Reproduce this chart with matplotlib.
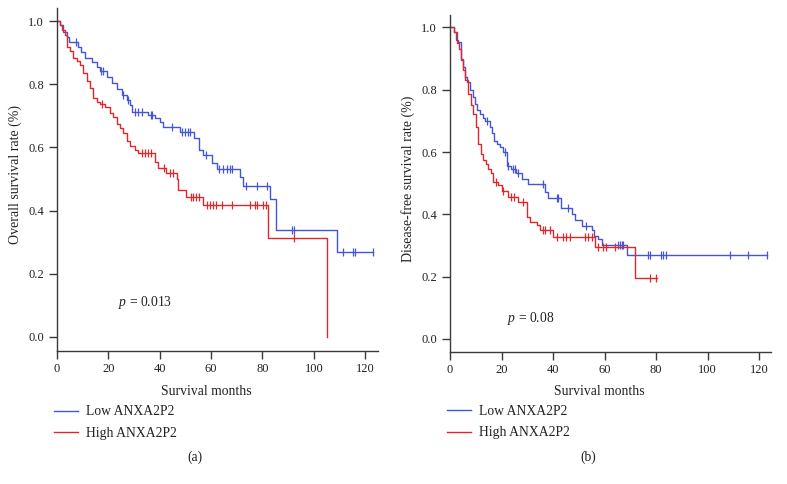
import numpy as np
import matplotlib
matplotlib.use('Agg')
import matplotlib.pyplot as plt

plt.rcParams['font.family'] = ['Liberation Serif', 'DejaVu Serif']
plt.rcParams['mathtext.fontset'] = 'custom'
plt.rcParams['mathtext.it'] = 'Liberation Serif:italic'
plt.rcParams['mathtext.rm'] = 'Liberation Serif'

BLUE = '#4455d6'
RED = '#e0282c'

# (a) overall survival
os_low_t = [0, 1.2, 2.5, 3.8, 4.5, 8.3, 9.5, 10.9, 13.5, 15.5, 16.8, 19.4, 21.3, 23.2, 25.2, 27.1, 28.4,
            29.1, 35.6, 38.2, 40.1, 41.4, 47.9, 53.4, 55.1, 57.0, 60.3, 62.2, 71.3, 72.3, 83.0, 85.3, 109.2]
os_low_s = [1.0, 0.987, 0.966, 0.95, 0.934, 0.919, 0.903, 0.882, 0.871, 0.855, 0.843, 0.824, 0.803, 0.784,
            0.766, 0.75, 0.734, 0.713, 0.703, 0.692, 0.681, 0.664, 0.648, 0.629, 0.592, 0.576, 0.55, 0.531,
            0.507, 0.478, 0.436, 0.339, 0.270]
os_low_cens = [7.4, 17.3, 18.0, 25.8, 27.6, 30.4, 31.7, 33.0, 36.5, 37.1, 44.7, 48.6, 49.9, 51.2, 51.8,
               58.0, 63.2, 64.8, 66.1, 67.4, 68.3, 73.6, 77.8, 81.7, 91.4, 92.3, 111.3, 115.2, 116.1, 123.0]
os_low_end = 123.0

os_high_t = [0, 1.2, 1.8, 3.1, 3.8, 5.1, 6.1, 7.7, 9.0, 10.0, 11.8, 12.8, 14.2, 15.5, 16.8, 18.7, 20.7,
             21.9, 23.2, 24.5, 25.8, 27.1, 28.4, 30.4, 31.7, 38.2, 39.5, 42.5, 46.6, 47.3, 50.1, 57.0,
             82.3, 105.1]
os_high_s = [1.0, 0.987, 0.97, 0.955, 0.919, 0.905, 0.882, 0.874, 0.86, 0.837, 0.81, 0.787, 0.756, 0.745,
             0.736, 0.728, 0.71, 0.695, 0.675, 0.661, 0.646, 0.62, 0.605, 0.592, 0.582, 0.555, 0.535, 0.52,
             0.50, 0.464, 0.442, 0.418, 0.312, 0.0]
os_high_cens = [17.4, 33.0, 34.3, 35.6, 36.5, 41.5, 44.0, 45.3, 52.1, 53.1, 54.1, 55.3, 58.3, 59.6, 60.9,
                61.9, 64.2, 68.0, 75.2, 77.1, 78.0, 80.1, 81.4, 92.3]
os_high_end = 105.1

# (b) disease-free survival
dfs_low_t = [0, 1.55, 2.33, 3.2, 4.1, 4.9, 5.8, 6.7, 7.8, 8.8, 9.7, 10.6, 11.7, 12.7, 13.6, 15.5, 16.2,
             17.1, 18.1, 19.4, 20.7, 22.0, 23.8, 25.8, 27.8, 30.4, 36.9, 38.2, 43.0, 47.3, 48.5, 51.1,
             55.0, 55.9, 57.6, 58.9, 68.6]
dfs_low_s = [1.0, 0.985, 0.96, 0.953, 0.90, 0.873, 0.841, 0.825, 0.80, 0.777, 0.755, 0.734, 0.723, 0.71,
             0.70, 0.68, 0.66, 0.635, 0.625, 0.616, 0.60, 0.554, 0.545, 0.532, 0.515, 0.496, 0.472, 0.451,
             0.419, 0.40, 0.381, 0.362, 0.349, 0.33, 0.32, 0.301, 0.269]
dfs_low_cens = [14.5, 21.3, 22.7, 24.3, 25.2, 26.5, 36.2, 41.4, 42.1, 45.9, 52.8, 65.4, 66.0, 66.7, 67.3,
                77.0, 77.7, 81.8, 82.8, 83.7, 108.7, 115.9, 123.2]
dfs_low_end = 123.2

dfs_high_t = [0, 1.7, 2.6, 3.5, 4.1, 4.9, 5.8, 6.9, 8.0, 9.1, 10.1, 11.0, 11.9, 12.9, 14.0, 14.9, 15.8,
              16.8, 18.8, 20.1, 22.7, 26.5, 29.8, 31.1, 33.7, 35.0, 40.1, 56.3, 71.8]
dfs_high_s = [1.0, 0.985, 0.95, 0.93, 0.894, 0.862, 0.83, 0.787, 0.75, 0.723, 0.68, 0.627, 0.593, 0.576,
              0.561, 0.547, 0.533, 0.504, 0.494, 0.475, 0.456, 0.44, 0.392, 0.376, 0.365, 0.349, 0.328,
              0.296, 0.195]
dfs_high_cens = [17.9, 20.7, 23.6, 24.9, 28.5, 36.0, 36.9, 38.8, 41.4, 44.0, 45.0, 46.6, 52.4, 53.7, 55.0,
                 57.6, 59.3, 60.6, 64.1, 77.7, 80.0]
dfs_high_end = 80.5

yticks = [0.0, 0.2, 0.4, 0.6, 0.8, 1.0]
xticks = [0, 20, 40, 60, 80, 100, 120]


def km_curve(ax, t, s, cens, end, color, label):
    t = np.array(t + [end])
    s = np.array(s + [s[-1]])
    ax.step(t, s, where='post', color=color, lw=1.0, label=label)
    c = np.array(cens)
    idx = np.searchsorted(t, c, side='right') - 1
    ax.plot(c, s[idx], ls='none', marker='|', ms=6, mew=0.9, color=color)


fig = plt.figure(figsize=(7.87, 4.84), dpi=100)
ax1 = fig.add_axes([0.0724, 0.2744, 0.408, 0.7083])
ax2 = fig.add_axes([0.5718, 0.2727, 0.4074, 0.6963])

panels = [
    (ax1, os_low_t, os_low_s, os_low_cens, os_low_end, os_high_t, os_high_s, os_high_cens, os_high_end,
     'Overall survival rate (%)', r'$p$ = 0.013', (23.8, 0.108), (125, -0.045), '(a)', 0.248),
    (ax2, dfs_low_t, dfs_low_s, dfs_low_cens, dfs_low_end, dfs_high_t, dfs_high_s, dfs_high_cens,
     dfs_high_end, 'Disease-free survival rate (%)', r'$p$ = 0.08', (22.1, 0.067), (124.5, -0.042), '(b)', 0.747),
]

for (ax, lt, ls_, lc, le, ht, hs, hc, he, ylab, ptxt, ppos, lims, tag, tagx) in panels:
    km_curve(ax, lt, ls_, lc, le, BLUE, 'Low ANXA2P2')
    km_curve(ax, ht, hs, hc, he, RED, 'High ANXA2P2')
    ax.set_xlim(0, lims[0])
    ax.set_ylim(lims[1], 1.04)
    ax.set_xticks(xticks)
    ax.set_yticks(yticks)
    ax.set_yticklabels([f'{v:.1f}' for v in yticks])
    for side in ['top', 'right']:
        ax.spines[side].set_visible(False)
    for side in ['left', 'bottom']:
        ax.spines[side].set_color('#3a3a3a')
        ax.spines[side].set_linewidth(1.0)
    ax.tick_params(direction='out', length=5.5, width=1.0, color='#3a3a3a', labelsize=9,
                   labelcolor='#222222')
    ax.tick_params(axis='y', pad=4)
    ax.tick_params(axis='x', pad=3)
    ax.set_xlabel('Survival months', fontsize=9.8, color='#222222')
    ax.xaxis.set_label_coords(0.466, -0.117)
    ax.xaxis.label.set_va('center')
    ax.set_ylabel(ylab, fontsize=10, color='#222222')
    ax.yaxis.set_label_coords(-0.131, 0.514)
    ax.yaxis.label.set_va('center')
    ax.text(ppos[0], ppos[1], ptxt, fontsize=9.8, color='#222222', ha='left', va='center')
    leg = ax.legend(loc='upper left', bbox_to_anchor=(-0.01, -0.158), frameon=False, fontsize=9.8,
                    handlelength=1.8, handletextpad=0.6, labelspacing=0.6, borderpad=0, borderaxespad=0)
    for txt in leg.get_texts():
        txt.set_color('#222222')
    fig.text(tagx, 1 - 457 / 484, tag, fontsize=9.8, ha='center', va='center', color='#222222')

fig.savefig('out.png', dpi=100)
